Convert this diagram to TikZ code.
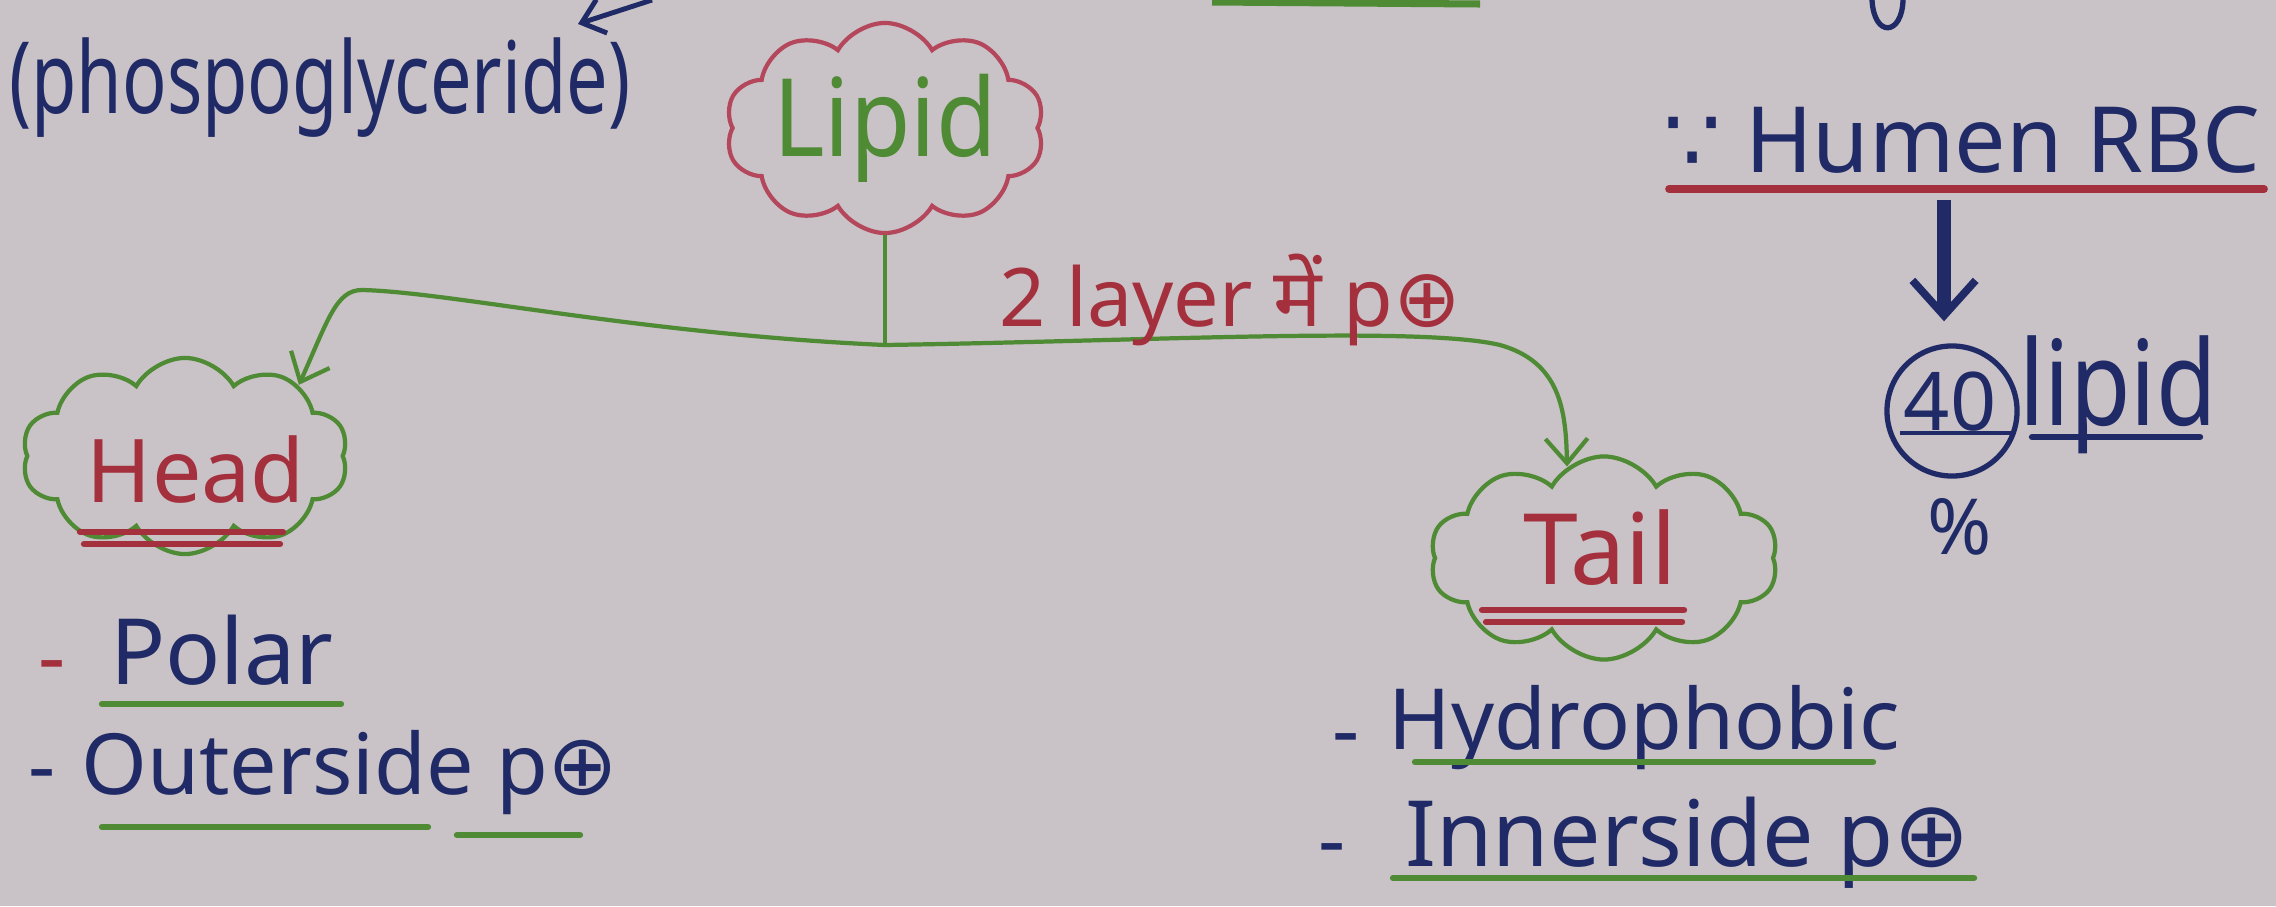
\documentclass[tikz,border=0pt]{standalone}
\usepackage{fontspec}
\setmainfont{Noto Sans}
\newfontfamily\devafont[Script=Devanagari]{Noto Sans}
\newfontfamily\symfont{DejaVu Sans}
\usetikzlibrary{shapes.symbols,arrows.meta,calc}

\definecolor{paper}{HTML}{C9C2C6}
\definecolor{inkblue}{HTML}{1F2A66}
\definecolor{inkgreen}{HTML}{4F8A35}
\definecolor{inkred}{HTML}{A3303C}
\definecolor{inkpink}{HTML}{B4475C}

\newcommand{\fsz}[1]{\fontsize{#1}{#1}\selectfont}
\newcommand{\pplus}{{\symfont ⊕}}
\newcommand{\tall}[2]{\scalebox{1}[#1]{#2}}

\tikzset{
  hand/.style={inner sep=0pt, font=\fsz{#1}},
  cloudbox/.style={cloud, cloud puffs=10, cloud puff arc=120, draw, line width=1.2pt, inner sep=0pt},
  branch/.style={draw=inkgreen, line width=1.2pt, line cap=round,
    -{Straight Barb[length=7pt,width=12pt,line width=1.2pt]}},
  uline/.style={line width=1.8pt, line cap=round},
}

\begin{document}
\begin{tikzpicture}[x=0.01cm, y=-0.01cm]
  % paper
  \fill[paper] (0,0) rectangle (2276,906);
  \useasboundingbox (0,0) rectangle (2276,906);

  % strokes running in from the line above
  \draw[inkgreen, line width=2pt] (1212,2) -- (1480,4);
  \draw[inkblue, line width=1.5pt, line cap=round] (1872,0) .. controls (1874,38) and (1902,36) .. (1903,0);

  % title in brackets
  \node[hand=21pt, text=inkblue] (phospo) at (320,88) {\tall{1.35}{(phospoglyceride)}};
  \coordinate (pgsrc) at (652,0);
  \coordinate (pgtip) at (578,24);
  \draw[inkblue, line width=1.4pt, -{Straight Barb[length=6pt,width=10pt,line width=1.4pt]}] (pgsrc) -- (pgtip);

  % lipid bubble
  \node[cloudbox, draw=inkpink, minimum width=3.19cm, minimum height=2.1cm, aspect=1.52] (lipidc) at (885,128) {};
  \node[hand=28pt, text=inkgreen] (lipid) at (885,128) {\tall{1.1}{Lipid}};

  % head bubble
  \node[cloudbox, draw=inkgreen, minimum width=3.26cm, minimum height=1.96cm, aspect=1.66] (headc) at (185,456) {};
  \node[hand=25pt, text=inkred] (head) at (196,470) {Head};
  \draw[inkred, uline] (80,532) -- (283,532);
  \draw[inkred, uline] (84,544) -- (280,544);

  % tail bubble
  \node[cloudbox, draw=inkgreen, minimum width=3.48cm, minimum height=2.03cm, aspect=1.7] (tailc) at (1604,558) {};
  \node[hand=28pt, text=inkred] (tail) at (1600,548) {Tail};
  \draw[inkred, uline] (1482,610) -- (1684,610);
  \draw[inkred, uline] (1486,622) -- (1682,622);

  % branches from lipid
  \coordinate (junc) at (885,345);
  \draw[draw=inkgreen, line width=1.2pt] (lipidc.south) -- (junc);
  \draw[branch] (junc) .. controls (640,334) and (450,292) .. (362,290)
                       .. controls (336,290) and (328,320) .. (headc.32);
  \draw[branch] (junc) .. controls (1150,341) and (1420,326) .. (1500,345)
                       .. controls (1560,362) and (1566,410) .. (tailc.112);
  \node[hand=23pt, text=inkred] (layers) at (1230,300) {2 layer {\devafont में} p\pplus};

  % head properties
  \node[hand=24pt, text=inkred] (d1) at (52,674) {-};
  \node[hand=26pt, text=inkblue] (polar) at (222,650) {Polar};
  \draw[inkgreen, uline] (102,704) -- (341,704);
  \node[hand=24pt, text=inkblue] (d2) at (42,783) {-};
  \node[hand=24pt, text=inkblue] (outer) at (350,773) {Outerside p\pplus};
  \draw[inkgreen, uline] (102,827) -- (428,827);
  \draw[inkgreen, uline] (457,835) -- (580,835);

  % tail properties
  \node[hand=24pt, text=inkblue] (d3) at (1346,747) {-};
  \node[hand=24pt, text=inkblue] (hydro) at (1644,728) {Hydrophobic};
  \draw[inkgreen, uline] (1415,762) -- (1873,762);
  \node[hand=24pt, text=inkblue] (d4) at (1332,857) {-};
  \node[hand=26pt, text=inkblue] (inner) at (1688,843) {Innerside p\pplus};
  \draw[inkgreen, uline] (1393,878) -- (1974,878);

  % red blood cell note
  \node[hand=26pt, text=inkblue] (rbc) at (1962,140) {{\symfont ∵} Humen RBC};
  \draw[inkred, line width=2.2pt, line cap=round] (1669,189) -- (2264,189);
  \coordinate (rbcline) at (1944,200);
  \node[circle, draw=inkblue, line width=1.5pt, minimum size=1.3cm, inner sep=0pt] (forty) at (1952,411) {};
  \node[hand=23pt, text=inkblue] (fortytxt) at (1950,402) {40};
  \draw[inkblue, line width=1.4pt] (1900,433) -- (2012,433);
  \draw[inkblue, line width=4pt, shorten >=0.22cm, -{Straight Barb[length=10pt,width=18pt,line width=2.2pt]}] (rbcline) -- (rbcline |- forty.north);
  \node[hand=28pt, text=inkblue] (lipid2) at (2118,395) {\tall{1.2}{lipid}};
  \draw[inkblue, uline] (2032,437) -- (2200,437);
  \node[hand=22pt, text=inkblue] (pct) at (1960,527) {\%};
\end{tikzpicture}
\end{document}
